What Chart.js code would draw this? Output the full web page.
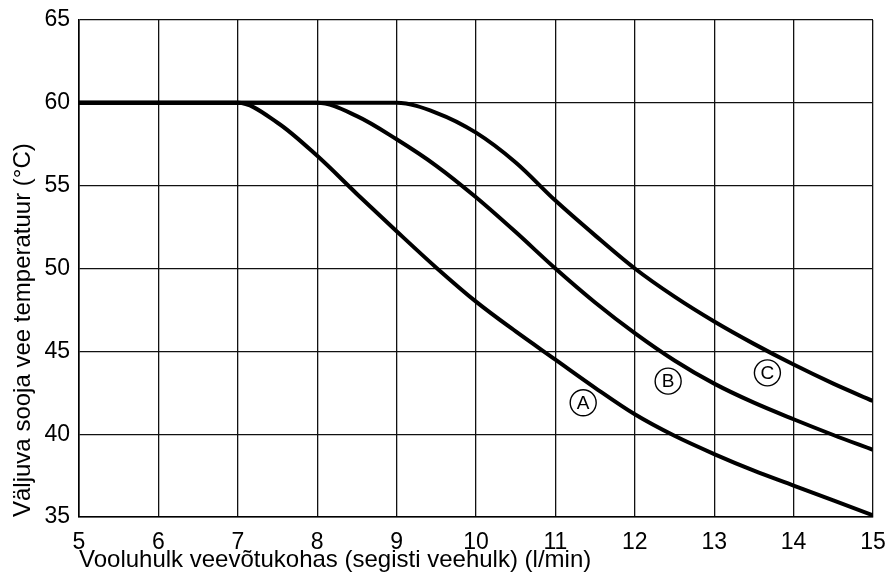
<!DOCTYPE html>
<html>
<head>
<meta charset="utf-8">
<script src="https://cdn.jsdelivr.net/npm/chart.js@4/dist/chart.umd.min.js"></script>
<style>
  html, body { margin:0; padding:0; background:#fff; }
  #wrap { width:888px; height:581px; }
</style>
</head>
<body>
<div id="wrap"><canvas id="c" width="888" height="581"></canvas></div>
<script>
// flow rate (l/min)
const flow = [5,5.5,6,6.5,7,7.5,8,8.5,9,9.5,10,10.5,11,11.5,12,12.5,13,13.5,14,14.5,15];
// outlet temperature (°C) per curve
const curveA = [60,60,60,60,60,58.8,56.8,54.5,52.25,50.05,48.0,46.2,44.5,42.8,41.2,39.9,38.8,37.8,36.9,36.0,35.1];
const curveB = [60,60,60,60,60,60,60,59.2,57.8,56.2,54.3,52.2,50.0,47.95,46.1,44.45,43.05,41.9,40.9,39.95,39.05];
const curveC = [60,60,60,60,60,60,60,60,60,59.4,58.2,56.4,54.1,52.0,50.0,48.3,46.8,45.45,44.2,43.05,42.0];

// circled curve labels
const markText = ['A','B','C'];
const markX = [11.35, 12.42, 13.67];
const markY = [41.9, 43.2, 43.7];

const FONT = '"Liberation Sans", Arial, sans-serif';

function toPoints(ys) { return flow.map((x,i) => ({x:x, y:ys[i]})); }

function curve(label, ys) {
  return {
    label: label,
    data: toPoints(ys),
    borderColor:'#000',
    borderWidth:4,
    pointRadius:0,
    fill:false,
    cubicInterpolationMode:'monotone'
  };
}

// draws the circled letters next to the curves
const markPlugin = {
  id:'marks',
  afterDatasetsDraw(chart) {
    const ctx = chart.ctx, xs = chart.scales.x, ys = chart.scales.y;
    ctx.save();
    for (let i = 0; i < markText.length; i++) {
      const px = xs.getPixelForValue(markX[i]);
      const py = ys.getPixelForValue(markY[i]);
      ctx.beginPath();
      ctx.arc(px, py, 13, 0, Math.PI*2);
      ctx.fillStyle = '#fff';
      ctx.fill();
      ctx.lineWidth = 1.4;
      ctx.strokeStyle = '#000';
      ctx.stroke();
      ctx.fillStyle = '#000';
      ctx.font = '19px ' + FONT;
      ctx.textAlign = 'center';
      ctx.textBaseline = 'middle';
      ctx.fillText(markText[i], px, py + 1);
    }
    ctx.restore();
  }
};

new Chart(document.getElementById('c').getContext('2d'), {
  type:'line',
  data:{ datasets:[ curve('A', curveA), curve('B', curveB), curve('C', curveC) ] },
  options:{
    responsive:false,
    animation:false,
    layout:{ padding:{ top:20, right:15, bottom:0, left:0 } },
    plugins:{ legend:{display:false}, tooltip:{enabled:false} },
    scales:{
      x:{
        type:'linear', min:5, max:15,
        grid:{ color:'#111', lineWidth:1.3, drawTicks:false },
        border:{ color:'#000', width:1.6 },
        ticks:{ stepSize:1, padding:12, color:'#000', font:{ family:FONT, size:23 } },
        title:{ display:true, text:'Vooluhulk veevõtukohas (segisti veehulk) (l/min)', color:'#000',
                font:{ family:FONT, size:24 }, padding:{ top:0, bottom:6 }, align:'start' },
        afterFit(s) { s.height = 64; s.paddingLeft = 0; s.paddingRight = 0; }
      },
      y:{
        min:35, max:65,
        grid:{ color:'#111', lineWidth:1.3, drawTicks:false },
        border:{ color:'#000', width:1.6 },
        ticks:{ stepSize:5, padding:9, color:'#000', font:{ family:FONT, size:23 } },
        title:{ display:true, text:'Väljuva sooja vee temperatuur (°C)', color:'#000',
                font:{ family:FONT, size:24 }, padding:{ top:9, bottom:0 }, align:'start' },
        afterFit(s) { s.width = 79; s.paddingTop = 0; s.paddingBottom = 0; }
      }
    }
  },
  plugins:[markPlugin]
});
</script>
</body>
</html>
